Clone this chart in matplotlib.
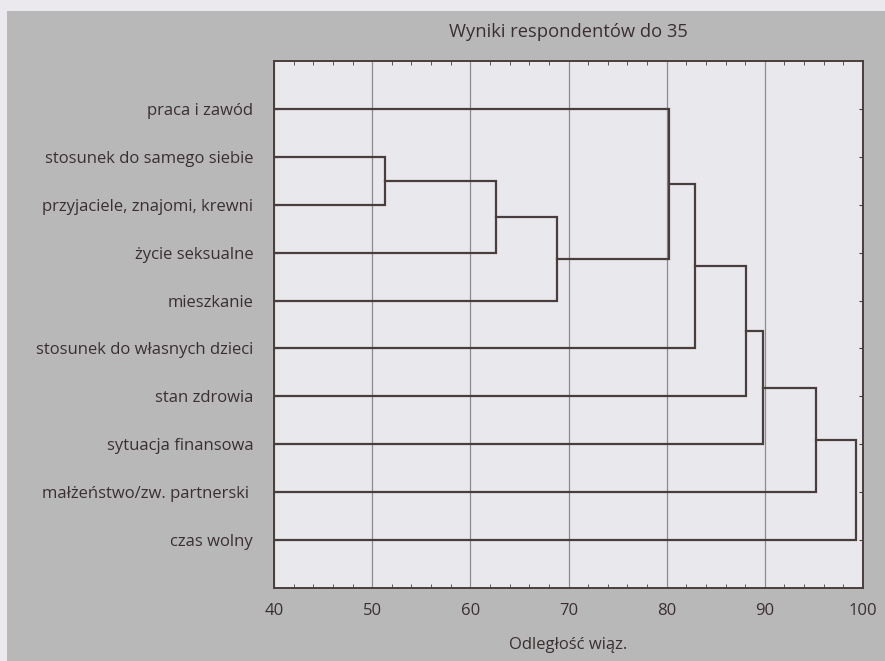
import matplotlib
matplotlib.use("Agg")
import matplotlib.pyplot as plt
from matplotlib.patches import Rectangle

labels = ["praca i zawód", "stosunek do samego siebie", "przyjaciele, znajomi, krewni",
          "życie seksualne", "mieszkanie", "stosunek do własnych dzieci", "stan zdrowia",
          "sytuacja finansowa", "małżeństwo/zw. partnerski ", "czas wolny"]
# scipy-style linkage: ids >= n refer to earlier merges
merge_pairs = [(1, 2), (10, 3), (11, 4), (0, 12), (13, 5), (14, 6), (15, 7), (16, 8), (17, 9)]
merge_heights = [51.3, 62.6, 68.8, 80.2, 82.9, 88.1, 89.8, 95.2, 99.3]
x_ticks = [40, 50, 60, 70, 80, 90, 100]
title = "Wyniki respondentów do 35"
xlabel = "Odległość wiąz."

TXT = "#3a2f30"
LINE = "#4a3d3e"
plt.rcParams['font.family'] = ['Open Sans', 'DejaVu Sans']

fig = plt.figure(figsize=(8.85, 6.61), dpi=100, facecolor="#ebe9ed")
W, H = 885, 661
fig.patches.append(Rectangle((7 / W, 0), 1, 1 - 11 / H, transform=fig.transFigure,
                             facecolor="#b9b8b9", edgecolor="none", zorder=-5))

ax = fig.add_axes([274 / W, (H - 588) / H, (863 - 274) / W, (588 - 61) / H])
ax.set_zorder(2)
ax.set_facecolor("#e9e8ec")

n = len(labels)
pos = {i: float(i) for i in range(n)}
hgt = {i: 40.0 for i in range(n)}
for k, ((a, b), h) in enumerate(zip(merge_pairs, merge_heights)):
    ax.plot([hgt[a], h, h, hgt[b]], [pos[a], pos[a], pos[b], pos[b]],
            color=LINE, lw=1.6, solid_joinstyle="miter", zorder=3)
    pos[n + k] = (pos[a] + pos[b]) / 2
    hgt[n + k] = h

ax.set_xlim(40, 100)
ax.set_ylim(n, -1)
ax.set_xticks(x_ticks)
ax.set_xticks(range(40, 101, 2), minor=True)
ax.set_yticks(range(n))
ax.set_yticklabels(labels)
ax.grid(axis="x", which="major", color="#8d8b8d", lw=0.9, zorder=1)
ax.tick_params(axis="x", which="major", direction="in", length=0, labelsize=12,
               labelcolor=TXT, pad=11)
ax.tick_params(axis="x", which="minor", direction="in", length=3, color=LINE,
               top=True, bottom=True)
ax.tick_params(axis="y", direction="in", length=3, color=LINE, right=True,
               labelsize=12, labelcolor=TXT, pad=15)
for s in ax.spines.values():
    s.set_color(LINE)
    s.set_linewidth(1.4)

ax.set_title(title, fontsize=13.2, color=TXT, pad=17)
ax.set_xlabel(xlabel, fontsize=12, color=TXT, labelpad=13)

fig.savefig("out.png", dpi=100, facecolor=fig.get_facecolor())
